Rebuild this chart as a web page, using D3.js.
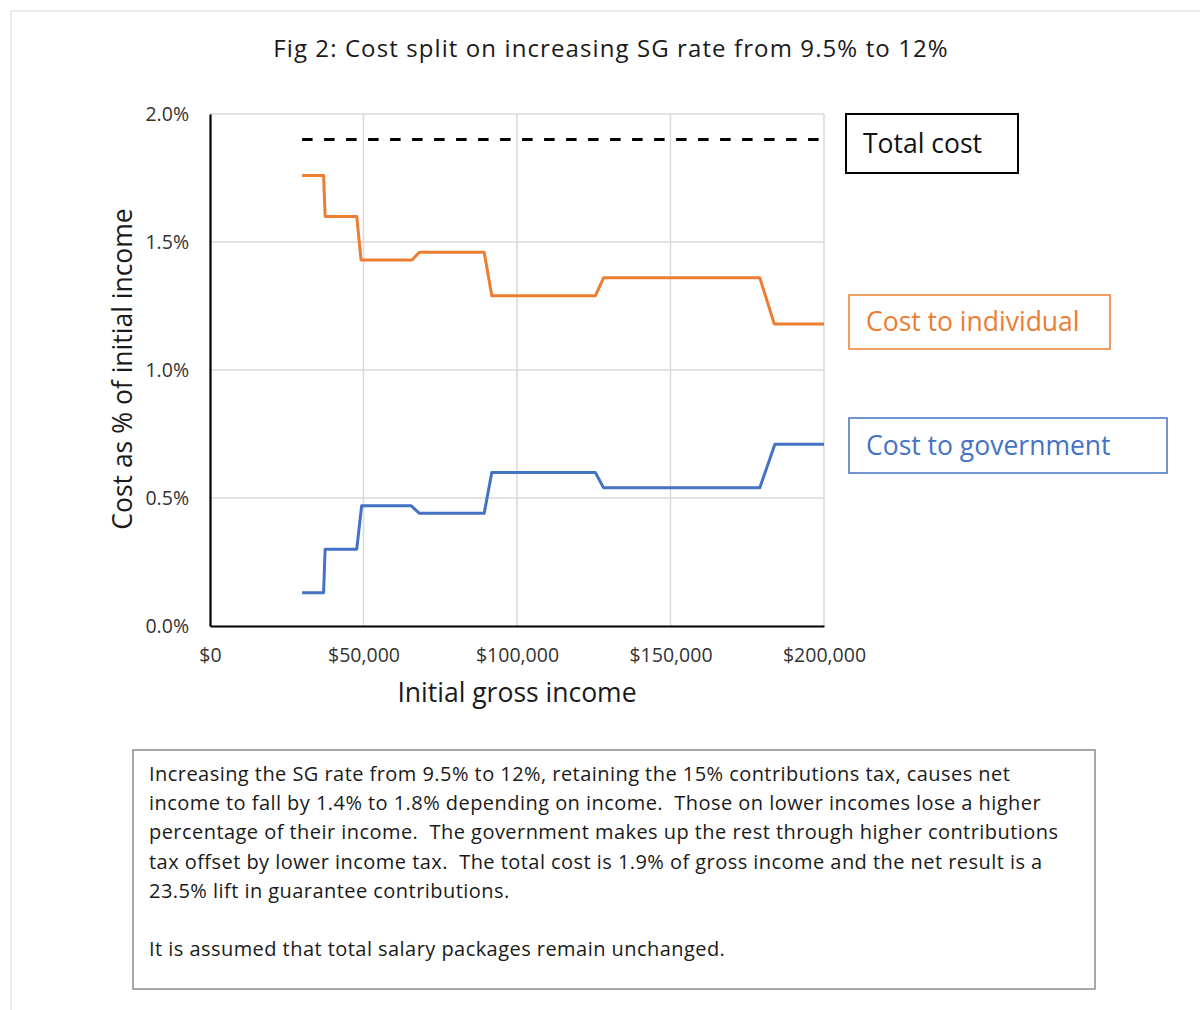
<!DOCTYPE html>
<html>
<head>
<meta charset="utf-8">
<script src="https://cdn.jsdelivr.net/npm/d3@7"></script>
<style>
  body { margin: 0; background: #fff; }
  text { font-family: "Open Sans", "Noto Sans", sans-serif; white-space: pre; }
</style>
</head>
<body>
<svg id="chart" width="1200" height="1010"></svg>
<script>
// ---- data (income in $, cost in % of income) ----
const incomeIndividual = [30000, 37000, 37500, 47800, 49200, 65800, 68200, 89300, 91800, 125500, 128200, 179100, 183800, 200000];
const costIndividual   = [1.76, 1.76, 1.60, 1.60, 1.43, 1.43, 1.46, 1.46, 1.29, 1.29, 1.36, 1.36, 1.18, 1.18];

const incomeGovernment = [30000, 37000, 37500, 47800, 49400, 65500, 68200, 89300, 91800, 125500, 128200, 179100, 184000, 200000];
const costGovernment   = [0.13, 0.13, 0.30, 0.30, 0.47, 0.47, 0.44, 0.44, 0.60, 0.60, 0.54, 0.54, 0.71, 0.71];

const incomeTotal = [30000, 200000];
const costTotal   = [1.9, 1.9];

const xTicks = [0, 50000, 100000, 150000, 200000];
const yTicks = [0, 0.5, 1.0, 1.5, 2.0];

const noteLines = [
    "Increasing the SG rate from 9.5% to 12%, retaining the 15% contributions tax, causes net",
    "income to fall by 1.4% to 1.8% depending on income.  Those on lower incomes lose a higher",
    "percentage of their income.  The government makes up the rest through higher contributions",
    "tax offset by lower income tax.  The total cost is 1.9% of gross income and the net result is a",
    "23.5% lift in guarantee contributions.",
    "",
    "It is assumed that total salary packages remain unchanged."
];

// ---- layout ----
const svg = d3.select("#chart");

// faint outer frame
svg.append("rect")
    .attr("x", 11).attr("y", 11)
    .attr("width", 1200).attr("height", 1010)
    .attr("fill", "none")
    .attr("stroke", "#e3e3e3")
    .attr("stroke-width", 1.5);

const margin = { top: 114, left: 210 };
const width = 614;
const height = 512;

const x = d3.scaleLinear().domain([0, 200000]).range([0, width]);
const y = d3.scaleLinear().domain([0, 2.0]).range([height, 0]);

const g = svg.append("g").attr("transform", `translate(${margin.left},${margin.top})`);

// title
svg.append("text")
    .attr("x", 611).attr("y", 57)
    .attr("text-anchor", "middle")
    .style("font-size", "24px")
    .style("letter-spacing", "1.1px")
    .style("fill", "#1a1a1a")
    .text("Fig 2: Cost split on increasing SG rate from 9.5% to 12%");

// gridlines
g.append("g")
    .attr("class", "grid")
    .selectAll("line")
    .data(yTicks.filter(d => d > 0))
    .join("line")
    .attr("x1", 0).attr("x2", width)
    .attr("y1", d => y(d)).attr("y2", d => y(d))
    .attr("stroke", "#d9d9d9").attr("stroke-width", 1.5);

g.append("g")
    .attr("class", "grid")
    .selectAll("line")
    .data(xTicks.filter(d => d > 0))
    .join("line")
    .attr("x1", d => x(d)).attr("x2", d => x(d))
    .attr("y1", 0).attr("y2", height)
    .attr("stroke", "#d9d9d9").attr("stroke-width", 1.5);

// axes
g.append("g")
    .attr("class", "x axis")
    .attr("transform", `translate(0,${height})`)
    .call(d3.axisBottom(x).tickValues(xTicks).tickSize(0).tickPadding(22)
        .tickFormat(d => "$" + d3.format(",")(d)));

g.append("g")
    .attr("class", "y axis")
    .call(d3.axisLeft(y).tickValues(yTicks).tickSize(0).tickPadding(21)
        .tickFormat(d => d.toFixed(1) + "%"));

g.selectAll(".axis path").attr("stroke", "#000").attr("stroke-width", 2.2);
g.selectAll(".axis text")
    .style("font-size", "19.5px")
    .style("font-family", "'Open Sans', sans-serif")
    .attr("fill", "#333");

// axis titles
svg.append("text")
    .attr("x", 517).attr("y", 702)
    .attr("text-anchor", "middle")
    .style("font-size", "26.5px")
    .style("fill", "#1a1a1a")
    .text("Initial gross income");

svg.append("text")
    .attr("transform", "translate(132,369) rotate(-90)")
    .attr("text-anchor", "middle")
    .style("font-size", "26.5px")
    .style("fill", "#1a1a1a")
    .text("Cost as % of initial income");

// lines
const line = d3.line()
    .x(d => x(d[0]))
    .y(d => y(d[1]));

g.append("path")
    .datum(d3.zip(incomeTotal, costTotal))
    .attr("d", line)
    .attr("fill", "none")
    .attr("stroke", "#000")
    .attr("stroke-width", 3)
    .attr("stroke-dasharray", "10.5,11.5");

g.append("path")
    .datum(d3.zip(incomeIndividual, costIndividual))
    .attr("d", line)
    .attr("fill", "none")
    .attr("stroke", "#ed7d31")
    .attr("stroke-width", 3)
    .attr("stroke-linejoin", "round");

g.append("path")
    .datum(d3.zip(incomeGovernment, costGovernment))
    .attr("d", line)
    .attr("fill", "none")
    .attr("stroke", "#4472c4")
    .attr("stroke-width", 3)
    .attr("stroke-linejoin", "round");

// label boxes
const labels = [
    { text: "Total cost", color: "#000", x: 846, y: 114, w: 172, h: 59, sw: 2, textColor: "#111" },
    { text: "Cost to individual", color: "#ed7d31", x: 849, y: 295, w: 261, h: 54, sw: 1.5, textColor: "#ed7d31" },
    { text: "Cost to government", color: "#4472c4", x: 849, y: 418, w: 318, h: 55, sw: 1.5, textColor: "#4472c4" }
];

const lab = svg.selectAll(".label-box")
    .data(labels)
    .join("g")
    .attr("class", "label-box");

lab.append("rect")
    .attr("x", d => d.x).attr("y", d => d.y)
    .attr("width", d => d.w).attr("height", d => d.h)
    .attr("fill", "#fff")
    .attr("stroke", d => d.color)
    .attr("stroke-width", d => d.sw);

lab.append("text")
    .attr("x", d => d.x + 17)
    .attr("y", d => d.y + d.h / 2 + 9)
    .style("font-size", "26.5px")
    .style("fill", d => d.textColor)
    .text(d => d.text);

// note box
svg.append("rect")
    .attr("x", 133).attr("y", 750)
    .attr("width", 962).attr("height", 239)
    .attr("fill", "#fff")
    .attr("stroke", "#8c8c8c")
    .attr("stroke-width", 1.5);

svg.append("g")
    .selectAll("text")
    .data(noteLines)
    .join("text")
    .attr("x", 149)
    .attr("y", (d, i) => 781 + i * 29.2)
    .style("font-size", "20px")
    .style("letter-spacing", "0.45px")
    .style("fill", "#1a1a1a")
    .text(d => d);
</script>
</body>
</html>
